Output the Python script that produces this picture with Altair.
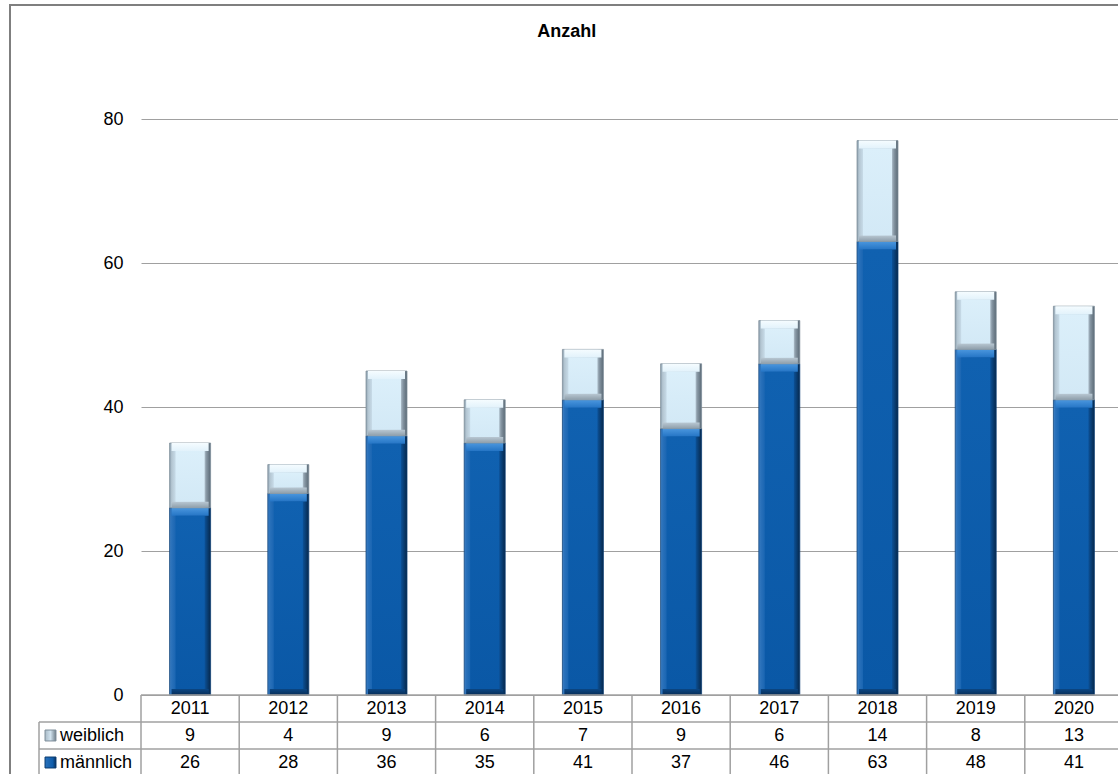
import altair as alt
import pandas as pd

# Values per year
years = ["2011", "2012", "2013", "2014", "2015", "2016", "2017", "2018", "2019", "2020"]
maennlich = [26, 28, 36, 35, 41, 37, 46, 63, 48, 41]
weiblich = [9, 4, 9, 6, 7, 9, 6, 14, 8, 13]

y_ticks = [0, 20, 40, 60, 80]
table_rows = ["Jahr", "weiblich", "männlich"]
legend_rows = ["weiblich", "männlich"]

FONT = "Liberation Sans"
FS = 18
GRID = "#a0a0a0"

# Stacked segments: männlich at the bottom, weiblich on top
male_df = pd.DataFrame({"jahr": years, "start": [0] * 10, "end": maennlich})
female_df = pd.DataFrame({
    "jahr": years,
    "start": maennlich,
    "end": [m + w for m, w in zip(maennlich, weiblich)],
})

# Data table below the plot
table_df = pd.DataFrame({
    "jahr": years * 3,
    "row": ["Jahr"] * 10 + ["weiblich"] * 10 + ["männlich"] * 10,
    "label": years + [str(v) for v in weiblich] + [str(v) for v in maennlich],
})
years_df = pd.DataFrame({"jahr": years})
legend_df = pd.DataFrame({"row": legend_rows})
one = pd.DataFrame({"k": [0]})

X_SCALE = alt.Scale(domain=years, range=[0, 982], paddingInner=0, paddingOuter=0)
X = alt.X("jahr:N", sort=years, scale=X_SCALE, axis=None)
X_EDGE = alt.X("jahr:N", sort=years, scale=X_SCALE, axis=None, bandPosition=0)
Y_SCALE = alt.Scale(domain=[0, 80], nice=False)
Y_AXIS = alt.Axis(values=y_ticks, title=None, domain=False, ticks=False, tickSize=0,
                  labelPadding=18, labelFont=FONT, labelFontSize=FS, labelColor="black",
                  grid=True, gridColor=GRID, gridWidth=1)
ROW_SCALE = alt.Scale(domain=table_rows, range=[576, 657], paddingInner=0, paddingOuter=0)
Y_ROW = alt.Y("row:N", scale=ROW_SCALE, axis=None)
Y_ROW_EDGE = alt.Y("row:N", scale=ROW_SCALE, axis=None, bandPosition=0)


def yq(field):
    return alt.Y(field, scale=Y_SCALE, axis=Y_AXIS, title=None)


def hgrad(stops):
    return alt.LinearGradient(gradient="linear", x1=0, x2=1, y1=0, y2=0,
                              stops=[alt.GradientStop(offset=o, color=c) for o, c in stops])


def vgrad(stops):
    return alt.LinearGradient(gradient="linear", x1=0, x2=0, y1=0, y2=1,
                              stops=[alt.GradientStop(offset=o, color=c) for o, c in stops])


def bevel_bar(df, body, top, bottom, face, edge):
    base = alt.Chart(df)
    body_l = base.mark_bar(size=41, fill=body, stroke=edge, strokeWidth=0.75).encode(
        x=X, y=yq("end:Q"), y2="start:Q")
    top_l = base.mark_bar(size=37, fill=top, y2Offset=8).encode(
        x=X, y=yq("end:Q"), y2="end:Q")
    bot_l = base.mark_bar(size=37, fill=bottom, yOffset=-6).encode(
        x=X, y=yq("start:Q"), y2="start:Q")
    face_l = base.mark_bar(size=29, fill=face, yOffset=8, y2Offset=-6).encode(
        x=X, y=yq("end:Q"), y2="start:Q")
    return [body_l, top_l, bot_l, face_l]


male_layers = bevel_bar(
    male_df,
    body=hgrad([(0, "#3f80c4"), (0.05, "#2a71ba"), (0.15, "#1965b2"),
                (0.84, "#0c559f"), (0.9, "#0a447f"), (1, "#06284c")]),
    top=vgrad([(0, "#4b97de"), (1, "#2575c5")]),
    bottom=vgrad([(0, "#0b4683"), (1, "#072d57")]),
    face=vgrad([(0, "#1061b0"), (1, "#0a58a6")]),
    edge="#0b3e74",
)
female_layers = bevel_bar(
    female_df,
    body=hgrad([(0, "#8c9fae"), (0.05, "#b3c5d1"), (0.15, "#c8dce9"),
                (0.84, "#b8c9d5"), (0.9, "#8696a3"), (1, "#5a6975")]),
    top=vgrad([(0, "#f5fcff"), (1, "#e2f2fb")]),
    bottom=vgrad([(0, "#b8c7d2"), (1, "#8e9eaa")]),
    face=vgrad([(0, "#dbeffa"), (1, "#d3e9f6")]),
    edge="#7d8d99",
)
bars = alt.layer(*male_layers, *female_layers)

# Table grid lines: horizontal row edges and vertical column edges
h_year = alt.Chart(pd.DataFrame({"row": ["Jahr"]})).mark_rule(
    color=GRID, strokeWidth=1.5).encode(x=alt.value(0), x2=alt.value(1000), y=Y_ROW_EDGE)
h_rows = alt.Chart(legend_df).mark_rule(color=GRID, strokeWidth=1.5).encode(
    x=alt.value(-102), x2=alt.value(1000), y=Y_ROW_EDGE)
v_cols = alt.Chart(years_df).mark_rule(color=GRID, strokeWidth=1.5).encode(
    x=X_EDGE, y=alt.value(576), y2=alt.value(700))
v_label = alt.Chart(pd.DataFrame({"row": ["weiblich"]})).mark_rule(
    color=GRID, strokeWidth=1.5).encode(x=alt.value(-102), y=Y_ROW_EDGE, y2=alt.value(700))

cell_text = alt.Chart(table_df).mark_text(font=FONT, fontSize=FS, color="black",
                                          align="center", baseline="middle").encode(
    x=X, y=Y_ROW, text="label:N")
row_text = alt.Chart(legend_df).mark_text(font=FONT, fontSize=FS, color="black",
                                          align="left", baseline="middle").encode(
    x=alt.value(-81), y=Y_ROW, text="row:N")
swatch_m = alt.Chart(legend_df[legend_df.row == "männlich"]).mark_square(
    size=120, opacity=1, fill=hgrad([(0, "#2a72bb"), (0.7, "#0e5cab"), (1, "#08305c")]),
    stroke="#0a3a6e", strokeWidth=1).encode(x=alt.value(-90.5), y=Y_ROW)
swatch_w = alt.Chart(legend_df[legend_df.row == "weiblich"]).mark_square(
    size=120, opacity=1, fill=hgrad([(0, "#a9bac6"), (0.5, "#d0e2ee"), (1, "#6f7f8b")]),
    stroke="#7d8d99", strokeWidth=1).encode(x=alt.value(-90.5), y=Y_ROW)
table = alt.layer(h_year, h_rows, v_cols, v_label, cell_text, row_text, swatch_m, swatch_w)

# Outer frame and heading
frame = alt.Chart(one).mark_rect(fill="white", fillOpacity=0, stroke="#7f7f7f",
                                 strokeWidth=2).encode(
    x=alt.value(-131), x2=alt.value(1100), y=alt.value(-114), y2=alt.value(720))
heading = alt.Chart(one).mark_text(text="Anzahl", font=FONT, fontSize=FS, fontWeight="bold",
                                   color="black", align="center", baseline="middle").encode(
    x=alt.value(425.7), y=alt.value(-87.5))

chart = alt.layer(bars, table, frame, heading).resolve_scale(y="independent").properties(
    width=977, height=576,
    padding={"left": 141, "top": 119, "right": 0, "bottom": 79},
    autosize=alt.AutoSizeParams(type="none"),
    background="white",
).configure_view(strokeOpacity=0)

chart.save("out.html", embed_options={"renderer": "svg", "actions": False})
